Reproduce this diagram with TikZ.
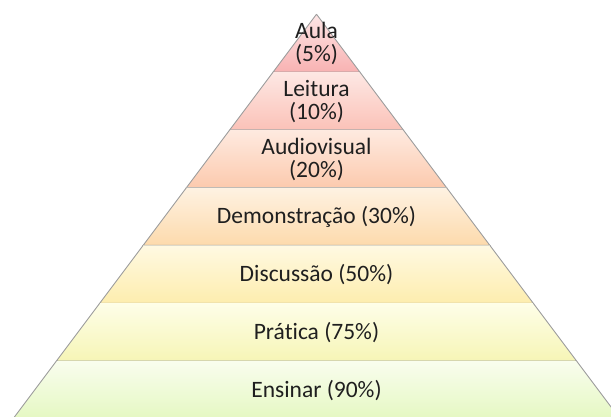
\documentclass[tikz,border=0pt]{standalone}
\usepackage{fontspec}
\setmainfont{Carlito}[Ligatures=CommonOff]
\begin{document}
\begin{tikzpicture}[x=1pt,y=-1pt,
  lbl/.style={font=\fontsize{23.5}{23.5}\selectfont, text=black!88, align=center, inner sep=0pt},
  edge/.style={draw=black!38, line width=0.9pt}]
\useasboundingbox (0,0) rectangle (611,416);
\clip (0,0) rectangle (611,416);
\def\cx{316.5}
\def\ay{14.2}
\def\hh{57.8}
\def\sl{0.75}
\foreach \k/\ct/\cb in {0/FDE6E6/F8B2B2, 1/FDE8E4/FBC2B8, 2/FEEAE0/FCCAAE, 3/FEF2E2/FDDAAC, 4/FFF9E2/FDEDAE, 5/FEFEE8/F6F5B6, 6/F9FDEE/E5F8C2} {
  \definecolor{ctop}{HTML}{\ct}
  \definecolor{cbot}{HTML}{\cb}
  \pgfmathsetmacro{\ya}{\ay+\hh*\k}
  \pgfmathsetmacro{\yb}{\ay+\hh*(\k+1)}
  \pgfmathsetmacro{\wa}{\sl*\hh*\k}
  \pgfmathsetmacro{\wb}{\sl*\hh*(\k+1)}
  \shade[top color=ctop, bottom color=cbot]
    (\cx-\wa,\ya) -- (\cx+\wa,\ya) -- (\cx+\wb,\yb) -- (\cx-\wb,\yb) -- cycle;
  \draw[edge] (\cx-\wa,\ya) -- (\cx-\wb,\yb) -- (\cx+\wb,\yb) -- (\cx+\wa,\ya);
}
\node[lbl] (aula) at (316.5,43.5) {Aula\\(5\%)};
\node[lbl] (leit) at (316.5,101.5) {Leitura\\(10\%)};
\node[lbl] (audio) at (316.5,159.5) {Audiovisual\\(20\%)};
\node[lbl] (demo) at (316.5,217) {Demonstração (30\%)};
\node[lbl] (disc) at (316.5,275) {Discussão (50\%)};
\node[lbl] (prat) at (316.5,333) {Prática (75\%)};
\node[lbl] (ens) at (316.5,391) {Ensinar (90\%)};
\end{tikzpicture}
\end{document}
